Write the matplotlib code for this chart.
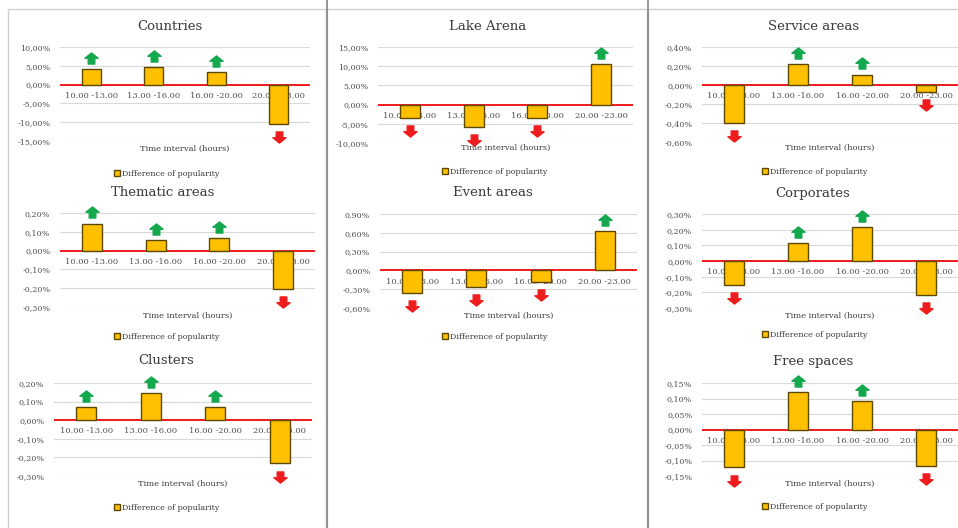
import numpy as np
import matplotlib
matplotlib.use("Agg")
import matplotlib.pyplot as plt
from matplotlib.path import Path
from matplotlib.patches import Rectangle, Patch
from matplotlib.lines import Line2D
import matplotlib.transforms as mtransforms

# ---- data (percent) ----
categories = ["10.00 -13.00", "13.00 -16.00", "16.00 -20.00", "20.00 -23.00"]
countries = [4.2, 4.6, 3.3, -10.5]
lake_arena = [-3.4, -5.8, -3.5, 10.5]
service_areas = [-0.40, 0.22, 0.11, -0.07]
thematic_areas = [0.144, 0.055, 0.068, -0.205]
event_areas = [-0.36, -0.26, -0.18, 0.63]
corporates = [-0.15, 0.117, 0.216, -0.218]
clusters = [0.073, 0.146, 0.07, -0.232]
free_spaces = [-0.122, 0.121, 0.092, -0.118]

W, H = 958, 528
BAR = "#FFC000"
BAR_EDGE = "#5e4800"
GREEN = "#14a84e"
RED = "#ee1c1c"
TXT = "#3a3a3a"
FONT = "DejaVu Serif"

# name, values, (ymin, ymax, step), axes box px (x0, y0, x1, y1), title (x, y), xlabel y, legend (x, y)
panels = [
    ("Countries", countries, (-15, 10, 5), (60, 47, 310, 141), (170, 26), 149, (167, 174)),
    ("Lake Arena", lake_arena, (-10, 15, 5), (378, 47, 633, 143), (488, 26), 148, (495, 172)),
    ("Service areas", service_areas, (-0.6, 0.4, 0.2), (702, 47, 958, 142), (814, 26), 148, (815, 172)),
    ("Thematic areas", thematic_areas, (-0.3, 0.2, 0.1), (60, 213, 315, 307), (163, 193), 316, (167, 337)),
    ("Event areas", event_areas, (-0.6, 0.9, 0.3), (380, 214, 637, 308), (493, 193), 316, (495, 337)),
    ("Corporates", corporates, (-0.3, 0.3, 0.1), (702, 214, 958, 308), (813, 193), 316, (815, 335)),
    ("Clusters", clusters, (-0.3, 0.2, 0.1), (54, 383, 312, 476), (166, 361), 484, (167, 508)),
    ("Free spaces", free_spaces, (-0.15, 0.15, 0.05), (702, 383, 958, 476), (813, 361), 484, (815, 507)),
]

# chunky block arrow: wide head, short wide stem
up = Path([(-0.25, -0.42), (0.25, -0.42), (0.25, 0.02), (0.5, 0.02), (0.0, 0.42),
           (-0.5, 0.02), (-0.25, 0.02), (-0.25, -0.42)], closed=True)
down = Path([(x, -y) for x, y in up.vertices], closed=True)

fig = plt.figure(figsize=(W / 100, H / 100), dpi=100)
fig.patch.set_facecolor("white")

def fx(x):
    return x / W

def fy(y):
    return 1 - y / H

# panel frames and column dividers
for x0, x1 in [(8, 326), (327, 647), (648, 962)]:
    fig.add_artist(Rectangle((fx(x0), fy(530)), fx(x1 - x0), (530 - 9) / H,
                             transform=fig.transFigure, fill=False, ec="#d0d0d0", lw=1))
for x in [326.5, 647.5]:
    fig.add_artist(Line2D([fx(x), fx(x)], [0, 1], transform=fig.transFigure, color="#8c8c8c", lw=1.3))

legend_handle = Patch(facecolor=BAR, edgecolor=BAR_EDGE, lw=1)

for name, vals, (lo, hi, step), (x0, y0, x1, y1), (tx, ty), xly, (lx, ly) in panels:
    ax = fig.add_axes([fx(x0), fy(y1), fx(x1 - x0), (y1 - y0) / H])
    ax.set_facecolor("none")
    xs = np.arange(len(categories))
    ax.bar(xs, vals, width=0.31, color=BAR, edgecolor=BAR_EDGE, lw=1, zorder=3)
    ax.axhline(0, color=RED, lw=1.4, zorder=2)

    ticks = np.arange(lo, hi + step / 2, step)
    ax.set_ylim(lo, hi)
    ax.set_yticks(ticks)
    ax.set_yticklabels([(f"{t:.2f}%").replace(".", ",").replace("-0,00", "0,00") for t in ticks],
                       family=FONT, fontsize=5.8, color="#505050")
    ax.set_xlim(-0.5, len(categories) - 0.5)
    ax.set_xticks([])
    ax.tick_params(axis="y", length=0, pad=7)
    for s in ax.spines.values():
        s.set_visible(False)
    ax.yaxis.grid(True, color="#d9d9d9", lw=0.8)
    ax.set_axisbelow(True)

    # category labels next to the zero line
    lab_tr = ax.transData + mtransforms.ScaledTranslation(0, -8 / 72, fig.dpi_scale_trans)
    for i, c in enumerate(categories):
        ax.text(i, 0, c, transform=lab_tr, ha="center", va="center",
                family=FONT, fontsize=6, color="#505050", zorder=1)

    # trend arrows
    up_tr = ax.transData + mtransforms.ScaledTranslation(0, 8 / 72, fig.dpi_scale_trans)
    dn_tr = ax.transData + mtransforms.ScaledTranslation(0, -9.5 / 72, fig.dpi_scale_trans)
    for i, v in enumerate(vals):
        if v >= 0:
            ax.plot(i, v, marker=up, ms=9.5, color=GREEN, mec=GREEN, transform=up_tr, clip_on=False, zorder=4)
        else:
            ax.plot(i, v, marker=down, ms=9.5, color=RED, mec=RED, transform=dn_tr, clip_on=False, zorder=4)

    fig.text(fx(tx), fy(ty), name, ha="center", va="center", family=FONT, fontsize=9.5, color=TXT)
    fig.text(fx((x0 + x1) / 2), fy(xly), "Time interval (hours)", ha="center", va="center",
             family=FONT, fontsize=6, color=TXT)
    fig.legend([legend_handle], ["Difference of popularity"], loc="center",
               bbox_to_anchor=(fx(lx), fy(ly)), frameon=False, handlelength=0.7, handleheight=0.7,
               handletextpad=0.3, prop={"family": FONT, "size": 5.8}, labelcolor=TXT)

fig.savefig("out.png", dpi=100, facecolor="white")
